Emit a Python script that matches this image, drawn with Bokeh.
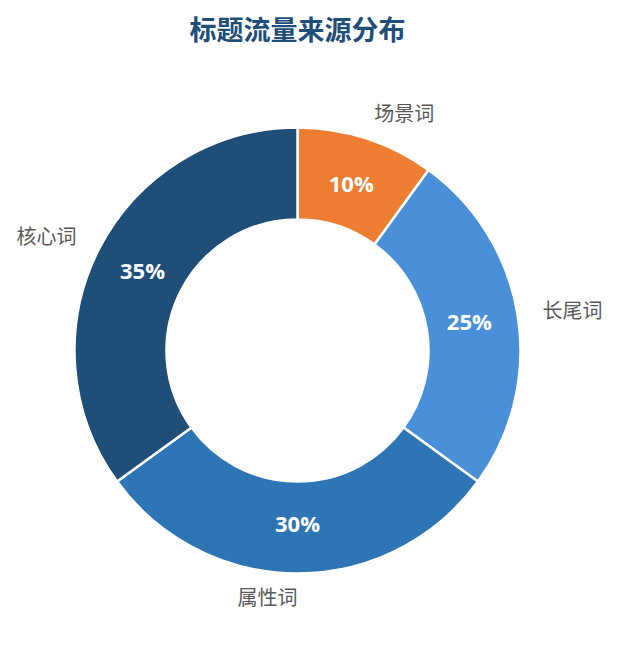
import numpy as np
from bokeh.plotting import figure
from bokeh.models import Range1d, ColumnDataSource
from bokeh.core.properties import value
from bokeh.embed import file_html
from bokeh.resources import INLINE

title = "标题流量来源分布"
categories = ["场景词", "长尾词", "属性词", "核心词"]
shares = [10, 25, 30, 35]
colors = ["#ED7D31", "#4A90D9", "#2E75B6", "#1F4E79"]

W, H = 610, 629
CX, CY = 297, 645 - 350
R_OUT, R_IN = 223, 131
R_LAB = 248
R_PCT = 174

vals = np.array(shares, dtype=float)
frac = vals / vals.sum()
cum = np.concatenate([[0], np.cumsum(frac)])
start = np.pi / 2 - 2 * np.pi * cum[:-1]
end = np.pi / 2 - 2 * np.pi * cum[1:]
mid = (start + end) / 2

src = ColumnDataSource(dict(
    start=start, end=end, color=colors, cat=categories,
    pct=[f"{s}%" for s in shares],
    px=CX + R_PCT * np.cos(mid), py=CY + 2 + R_PCT * np.sin(mid),
))

p = figure(width=W, height=H, output_backend="svg", toolbar_location=None,
           x_range=Range1d(0, W), y_range=Range1d(645 - H, 645),
           min_border=0, outline_line_color=None)
p.axis.visible = False
p.grid.visible = False
p.background_fill_color = "white"
p.border_fill_color = "white"

p.annular_wedge(x=CX, y=CY, inner_radius=R_IN, outer_radius=R_OUT,
                start_angle="start", end_angle="end", direction="clock",
                fill_color="color", line_color="white", line_width=2.5, source=src)

p.text(x="px", y="py", text="pct", source=src, text_color="white",
       text_font=value("Open Sans"), text_font_style="bold", text_font_size="22px",
       text_align="center", text_baseline="middle")

lx = CX + R_LAB * np.cos(mid)
ly = CY + 2 + R_LAB * np.sin(mid)
right = np.cos(mid) > 1e-6
for side, align in [(right, "left"), (~right, "right")]:
    idx = np.where(side)[0]
    p.text(x=lx[idx], y=ly[idx], text=[categories[i] for i in idx],
           text_color="#595959", text_font=value("Noto Sans CJK SC"),
           text_font_size="20px", text_align=align, text_baseline="middle")

p.text(x=[CX], y=[645 - 28], text=[title], text_color="#1F4E79",
       text_font=value("Noto Sans CJK SC"), text_font_style="bold",
       text_font_size="27px", text_align="center", text_baseline="middle")

open("out.html", "w").write(file_html(p, INLINE))
